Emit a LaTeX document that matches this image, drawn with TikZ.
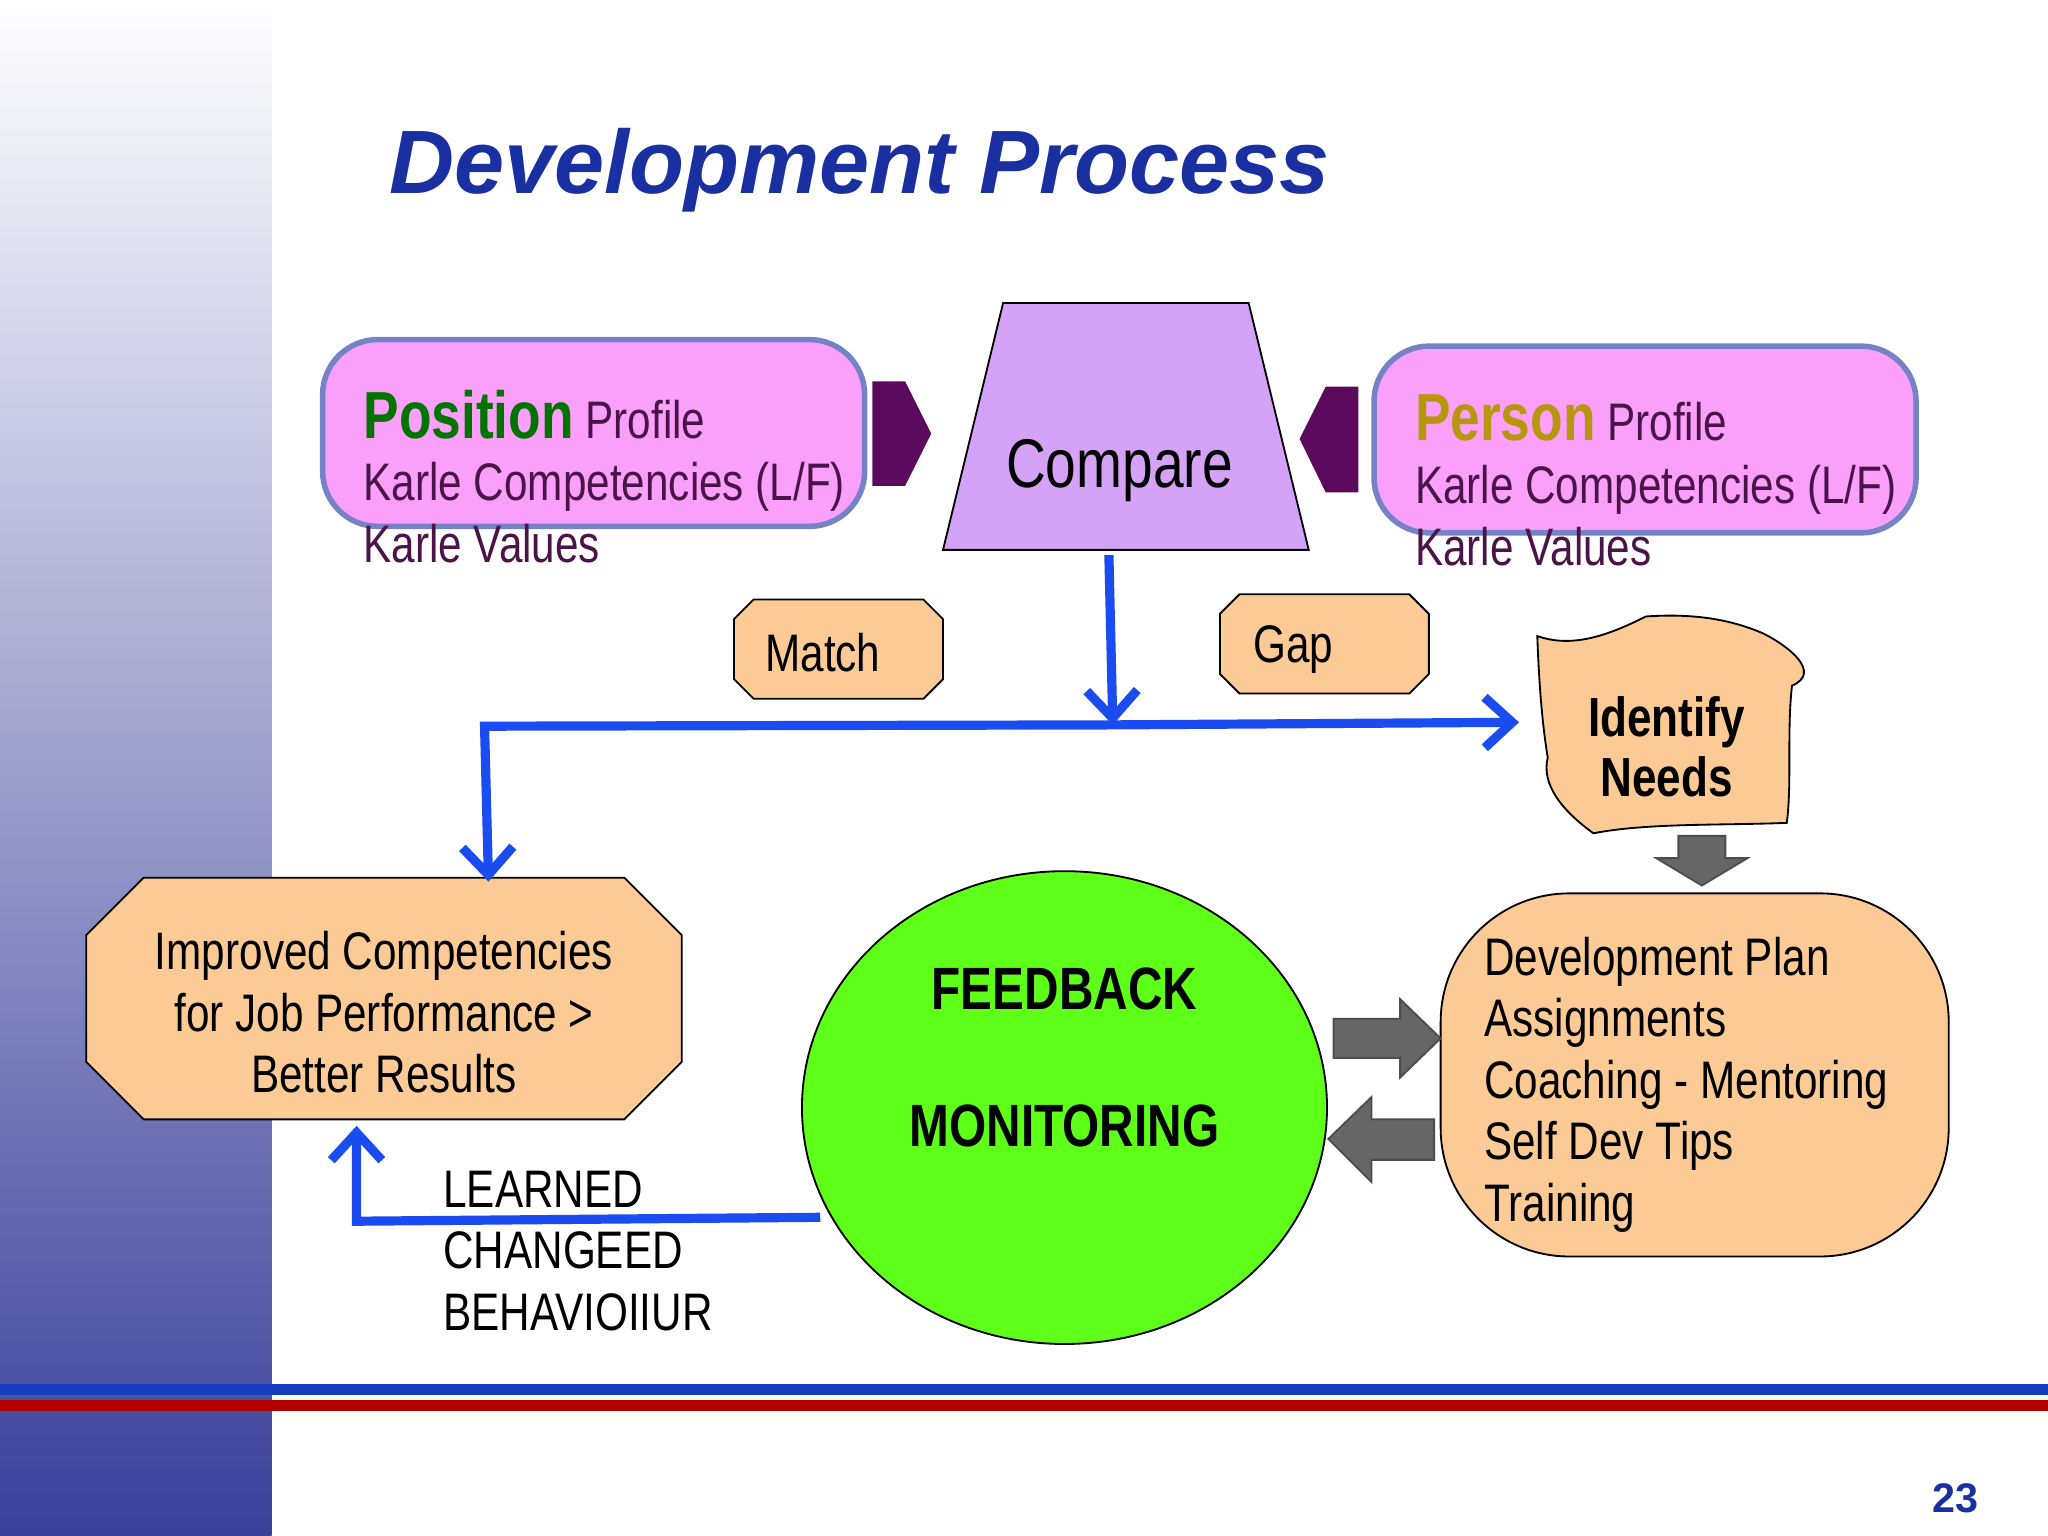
\documentclass[tikz,border=0pt]{standalone}
\usepackage{fontspec}
\setmainfont{Liberation Sans}
\newfontfamily\narrow{Liberation Sans}[FakeStretch=0.8]
\usetikzlibrary{shapes.geometric,shapes.misc,shapes.arrows,arrows.meta,positioning}
\definecolor{titleblue}{HTML}{1A2FA0}
\definecolor{boxpink}{HTML}{FBA0FA}
\definecolor{boxorange}{HTML}{FCCB95}
\definecolor{plum}{HTML}{5C0A5E}
\definecolor{textplum}{HTML}{4A1448}
\definecolor{lavender}{HTML}{D4A2F6}
\definecolor{gold}{HTML}{B8960E}
\definecolor{linkblue}{HTML}{1A4CF0}
\definecolor{bandblue}{HTML}{3A3F9A}
\begin{document}
\begin{tikzpicture}[x=0.01cm,y=-0.01cm,
	profile/.style={draw=titleblue!60,line width=1.2pt,fill=boxpink,rounded corners=12pt},
	pad/.style={draw=black,thin,fill=boxorange},
	link/.style={draw=linkblue,line width=2pt,-{Straight Barb[length=6pt,width=11pt]}},
	block/.style={draw=black!70,fill=black!60,thin},
	txt/.style={font=\narrow,text=black},
	profiletxt/.style={font=\narrow\fontsize{11.5}{13.6}\selectfont,text=textplum,align=left,anchor=north west}
	]
	\useasboundingbox (0,0) rectangle (1568,1176);
	% side band
	\shade[top color=white,bottom color=bandblue] (0,0) rectangle (208,1176);
	\node[font=\bfseries\itshape\fontsize{19.6}{24}\selectfont,text=titleblue] (title) at (658,130) {Development Process};
	% profiles
	\draw[profile] (247,260) rectangle (662,403);
	\node[profiletxt] (pos) at (266,286) {{\color{green!45!black}\bfseries\fontsize{14.5}{15}\selectfont Position} Profile\\Karle Competencies (L/F)\\Karle Values};
	\draw[profile] (1052,265) rectangle (1467,408);
	\node[profiletxt] (per) at (1071,290) {{\color{gold}\bfseries\fontsize{14.5}{15}\selectfont Person} Profile\\Karle Competencies (L/F)\\Karle Values};
	\fill[plum] (668,292) -- (693,292) -- (713,332) -- (693,372) -- (668,372) -- cycle;
	\fill[plum] (1040,296) -- (1015,296) -- (995,336) -- (1015,377) -- (1040,377) -- cycle;
	% compare
	\draw[fill=lavender,draw=black] (768,232) -- (956,232) -- (1002,421) -- (722,421) -- cycle;
	\node[txt,font=\narrow\fontsize{15}{18}\selectfont] (cmp) at (857,360) {Compare};
	\coordinate (cmpB) at (849,425);
	% match / gap
	\draw[pad] (577,459) -- (707,459) -- (722,474) -- (722,520) -- (707,535) -- (577,535) -- (562,520) -- (562,474) -- cycle;
	\node[txt,font=\narrow\fontsize{11.5}{14}\selectfont] (match) at (630,500) {Match};
	\draw[pad] (949,455) -- (1079,455) -- (1094,470) -- (1094,516) -- (1079,531) -- (949,531) -- (934,516) -- (934,470) -- cycle;
	\node[txt,font=\narrow\fontsize{11.5}{14}\selectfont] (gap) at (990,497) {Gap};
	% identify needs
	\draw[pad] (1177,487) .. controls (1200,495) and (1225,490) .. (1260,472)
		.. controls (1290,470) and (1320,472) .. (1350,485)
		.. controls (1370,495) and (1395,515) .. (1372,525)
		.. controls (1368,560) and (1372,600) .. (1368,630)
		.. controls (1320,632) and (1260,630) .. (1220,638)
		.. controls (1195,620) and (1180,600) .. (1185,580)
		.. controls (1180,550) and (1178,515) .. cycle;
	\node[txt,font=\narrow\bfseries\fontsize{12}{13}\selectfont,align=center] (needs) at (1276,572) {Identify\\Needs};
	\coordinate (needsL) at (1163,553);
	\draw[block] (1285,640) -- (1321,640) -- (1321,657) -- (1338,657) -- (1303,678) -- (1268,657) -- (1285,657) -- cycle;
	% improved
	\draw[pad] (110,672) -- (478,672) -- (522,716) -- (522,813) -- (478,857) -- (110,857) -- (66,813) -- (66,716) -- cycle;
	\node[txt,font=\narrow\fontsize{11.5}{13.4}\selectfont,align=center] (impr) at (294,775) {Improved Competencies\\for Job Performance >\\Better Results};
	\coordinate (imprT) at (374,675);
	\coordinate (imprB) at (273,862);
	% feedback
	\draw[fill=green!60!lime!90!white,draw=black] (815,848) ellipse (201 and 181);
	\node[txt,font=\narrow\bfseries\fontsize{13}{16}\selectfont] (fb) at (815,757) {FEEDBACK};
	\node[txt,font=\narrow\bfseries\fontsize{13}{16}\selectfont] (mon) at (815,862) {MONITORING};
	\coordinate (fbL) at (628,932);
	% development plan
	\draw[pad,rounded corners=28pt] (1103,684) rectangle (1492,962);
	\node[txt,font=\narrow\fontsize{11.5}{13.4}\selectfont,align=left,anchor=north west] (plan) at (1124,705) {Development Plan\\Assignments\\Coaching - Mentoring\\Self Dev Tips\\Training};
	\draw[block] (1021,780) -- (1072,780) -- (1072,765) -- (1103,795) -- (1072,825) -- (1072,810) -- (1021,810) -- cycle;
	\draw[block] (1098,857) -- (1050,857) -- (1050,840) -- (1017,872) -- (1050,905) -- (1050,888) -- (1098,888) -- cycle;
	% learned
	\node[txt,font=\narrow\fontsize{11.5}{13.4}\selectfont,align=left,anchor=north west] (learn) at (327,884) {LEARNED\\CHANGEED\\BEHAVIOIIUR};
	% connectors
	\coordinate (jn) at (852,555);
	\coordinate (jl) at (371,556);
	\coordinate (jb) at (273,935);
	\draw[link] (cmpB) -- (jn);
	\draw[link] (jn) -- (needsL);
	\draw[link] (jn) -- (jl) -- (imprT);
	\draw[link] (fbL) -- (jb) -- (imprB);
	% footer
	\draw[linkblue!80!black,line width=2.5pt] (0,1064) -- (1568,1064);
	\draw[red!70!black,line width=2.5pt] (0,1076) -- (1568,1076);
	\node[font=\bfseries\small,text=titleblue] (page) at (1497,1147) {23};
\end{tikzpicture}
\end{document}
